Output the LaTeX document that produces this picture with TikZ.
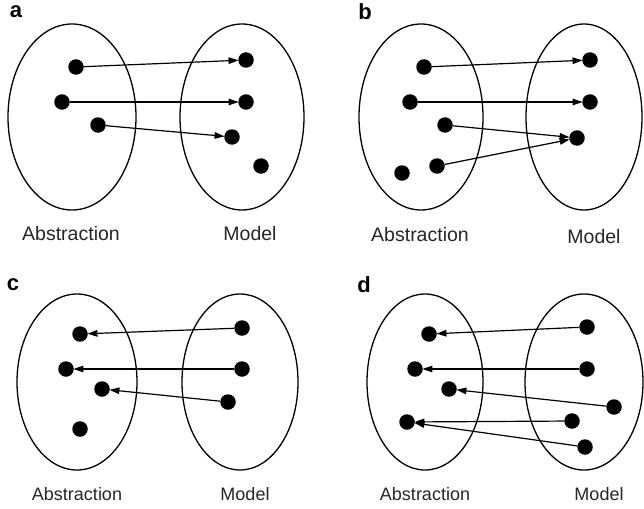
\documentclass[tikz,border=0pt]{standalone}
\usepackage{fontspec}
\setmainfont{Liberation Sans}
\usetikzlibrary{arrows.meta}
\begin{document}
\begin{tikzpicture}[x=1pt,y=-1pt,
  dot/.style={circle,fill=black,inner sep=0pt,minimum size=15.5pt},
  set/.style={line width=1.3pt},
  link/.style={line width=1.2pt,-{Triangle[length=10pt,width=6.5pt]},shorten >=-0.5pt},
  lbl/.style={font=\fontsize{19.5}{21}\selectfont,inner sep=0pt,text=black!85},
  lbls/.style={font=\fontsize{18}{20}\selectfont,inner sep=0pt,text=black!85},
  letter/.style={font=\fontsize{22}{24}\selectfont\bfseries,inner sep=0pt}]
\useasboundingbox (0,0) rectangle (644,508);
% ---------- panel a ----------
\node[letter] (la) at (16,12) {a};
\draw[set] (72,117) ellipse [x radius=64pt, y radius=93pt];
\draw[set] (242,117) ellipse [x radius=62pt, y radius=93pt];
\node[dot] (a1) at (76,67) {};
\node[dot] (a2) at (62,102) {};
\node[dot] (a3) at (98,125) {};
\node[dot] (a4) at (246,60) {};
\node[dot] (a5) at (246,102) {};
\node[dot] (a6) at (232,137) {};
\node[dot] (a7) at (261,166) {};
\draw[link] (a1) -- (a4);
\draw[link] (a2) -- (a5);
\draw[link] (a3) -- (a6);
\node[lbl] (ta1) at (71,234) {Abstraction};
\node[lbl] (ta2) at (250,234) {Model};
% ---------- panel b ----------
\node[letter] (lb) at (365,12) {b};
\draw[set] (421,117) ellipse [x radius=62pt, y radius=93pt];
\draw[set] (584,117) ellipse [x radius=58pt, y radius=93pt];
\node[dot] (b1) at (424,67) {};
\node[dot] (b2) at (410,102) {};
\node[dot] (b3) at (445,125) {};
\node[dot] (b4) at (402,173) {};
\node[dot] (b5) at (437,166) {};
\node[dot] (b6) at (590,60) {};
\node[dot] (b7) at (590,102) {};
\node[dot] (b8) at (577,138) {};
\draw[link] (b1) -- (b6);
\draw[link] (b2) -- (b7);
\draw[link] (b3) -- (b8);
\draw[link] (b5) -- (b8);
\node[lbl] (tb1) at (420,235) {Abstraction};
\node[lbl] (tb2) at (594,237) {Model};
% ---------- panel c ----------
\node[letter] (lc) at (13,285) {c};
\draw[set] (77,382) ellipse [x radius=60pt, y radius=88pt];
\draw[set] (240,382) ellipse [x radius=58pt, y radius=88pt];
\node[dot] (c1) at (80,334) {};
\node[dot] (c2) at (66,369) {};
\node[dot] (c3) at (102,389) {};
\node[dot] (c4) at (80,429) {};
\node[dot] (c5) at (242,328) {};
\node[dot] (c6) at (242,369) {};
\node[dot] (c7) at (228,402) {};
\draw[link] (c5) -- (c1);
\draw[link] (c6) -- (c2);
\draw[link] (c7) -- (c3);
\node[lbls] (tc1) at (77,494) {Abstraction};
\node[lbls] (tc2) at (245,494) {Model};
% ---------- panel d ----------
\node[letter] (ld) at (364,285) {d};
\draw[set] (425,382) ellipse [x radius=58pt, y radius=88pt];
\draw[set] (584,382) ellipse [x radius=59pt, y radius=88pt];
\node[dot] (d1) at (429,334) {};
\node[dot] (d2) at (415,369) {};
\node[dot] (d3) at (449,389) {};
\node[dot] (d4) at (407,422) {};
\node[dot] (d5) at (587,327) {};
\node[dot] (d6) at (587,369) {};
\node[dot] (d7) at (614,407) {};
\node[dot] (d8) at (572,421) {};
\node[dot] (d9) at (585,447) {};
\draw[link] (d5) -- (d1);
\draw[link] (d6) -- (d2);
\draw[link] (d7) -- (d3);
\draw[link] (d8) -- (d4);
\draw[link] (d9) -- (d4);
\node[lbls] (td1) at (425,494) {Abstraction};
\node[lbls] (td2) at (599,494) {Model};
\end{tikzpicture}
\end{document}
